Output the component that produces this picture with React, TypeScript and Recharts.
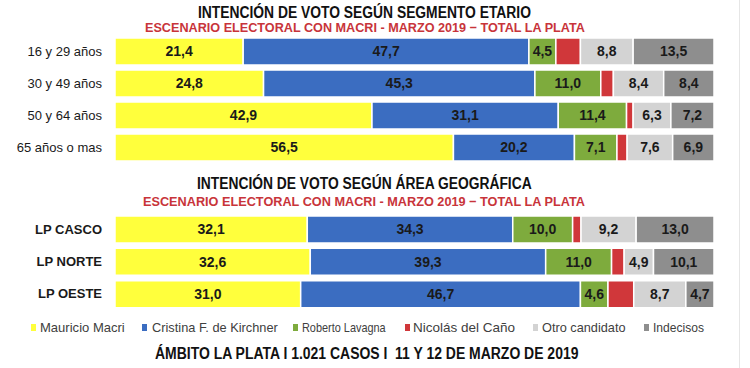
import React, { useLayoutEffect, useRef, useState } from 'react';
import { BarChart, Bar, XAxis, YAxis, LabelList } from 'recharts';

const ageCategories = ['16 y 29 años', '30 y 49 años', '50 y 64 años', '65 años o mas'];
const ageMacri = [21.4, 24.8, 42.9, 56.5];
const ageKirchner = [47.7, 45.3, 31.1, 20.2];
const ageLavagna = [4.5, 11.0, 11.4, 7.1];
const ageCano = [4.1, 2.1, 1.1, 1.7];
const ageOtro = [8.8, 8.4, 6.3, 7.6];
const ageIndecisos = [13.5, 8.4, 7.2, 6.9];

const areaCategories = ['LP CASCO', 'LP NORTE', 'LP OESTE'];
const areaMacri = [32.1, 32.6, 31.0];
const areaKirchner = [34.3, 39.3, 46.7];
const areaLavagna = [10.0, 11.0, 4.6];
const areaCano = [1.4, 2.1, 4.3];
const areaOtro = [9.2, 4.9, 8.7];
const areaIndecisos = [13.0, 10.1, 4.7];

const seriesNames = ['Mauricio Macri', 'Cristina F. de Kirchner', 'Roberto Lavagna', 'Nicolás del Caño', 'Otro candidato', 'Indecisos'];
const seriesKeys = ['macri', 'kirchner', 'lavagna', 'cano', 'otro', 'indecisos'];
const seriesColors = ['#ffff3c', '#3b6dc1', '#7eab3d', '#d0373a', '#d3d3d3', '#8e8e8e'];
const seriesLabeled = [true, true, true, false, true, true];

const title1 = 'INTENCIÓN DE VOTO SEGÚN SEGMENTO ETARIO';
const title2 = 'INTENCIÓN DE VOTO SEGÚN ÁREA GEOGRÁFICA';
const subtitle = 'ESCENARIO ELECTORAL CON MACRI - MARZO 2019 − TOTAL LA PLATA';
const footer = 'ÁMBITO LA PLATA I 1.021 CASOS I  11 Y 12 DE MARZO DE 2019';

const FONT = "'Liberation Sans', Arial, sans-serif";

function build(cats: string[], cols: number[][]) {
  return cats.map((c, i) => {
    const row: any = { name: c };
    seriesKeys.forEach((k, j) => { row[k] = cols[j][i]; });
    return row;
  });
}

const ageData = build(ageCategories, [ageMacri, ageKirchner, ageLavagna, ageCano, ageOtro, ageIndecisos]);
const areaData = build(areaCategories, [areaMacri, areaKirchner, areaLavagna, areaCano, areaOtro, areaIndecisos]);

const fmt = (v: any) => Number(v).toFixed(1).replace('.', ',');

function FitText({ text, left, top, width, size, weight, color }: { text: string; left: number; top: number; width: number; size: number; weight: number; color: string }) {
  const ref = useRef<HTMLSpanElement>(null);
  const [scale, setScale] = useState(1);
  useLayoutEffect(() => {
    if (ref.current) {
      const w = ref.current.offsetWidth;
      if (w) setScale(width / w);
    }
  }, [text, width]);
  return (
    <span
      ref={ref}
      style={{
        position: 'absolute', left, top, fontSize: size, lineHeight: `${size}px`, fontWeight: weight, color,
        fontFamily: FONT, whiteSpace: 'pre', transform: `scaleX(${scale})`, transformOrigin: 'left top',
      }}
    >
      {text}
    </span>
  );
}

function StackChart({ data, top, height, bold }: { data: any[]; top: number; height: number; bold: boolean }) {
  return (
    <div style={{ position: 'absolute', left: 0, top }}>
      <BarChart width={750} height={height} data={data} layout="vertical" margin={{ top: 0, right: 36, bottom: 0, left: 0 }}>
        <XAxis type="number" hide domain={[0, 100]} allowDataOverflow />
        <YAxis
          type="category"
          dataKey="name"
          width={115}
          axisLine={false}
          tickLine={false}
          tickMargin={7}
          tick={{ fill: '#1a1a1a', fontSize: 13, fontFamily: FONT, fontWeight: bold ? 700 : 400 }}
        />
        {seriesKeys.map((k, j) => (
          <Bar key={k} dataKey={k} name={seriesNames[j]} stackId="a" fill={seriesColors[j]} stroke="#ffffff" strokeWidth={1.5} barSize={27} isAnimationActive={false}>
            {seriesLabeled[j] && (
              <LabelList dataKey={k} position="center" formatter={fmt} style={{ fill: '#1a1a1a', fontSize: 14, fontWeight: 700, fontFamily: FONT }} />
            )}
          </Bar>
        ))}
      </BarChart>
    </div>
  );
}

const legendSquareX = [31, 142, 293, 405, 533, 644];
const legendTextX = [40, 152, 302, 413, 542, 653];
const legendTextW = [85, 126, 84, 102, 84, 51];

export default function App() {
  return (
    <div style={{ position: 'fixed', left: 0, top: 0, width: 750, height: 368, background: '#ffffff', overflow: 'hidden' }}>
      <FitText text={title1} left={198} top={5.2} width={333} size={16} weight={700} color="#111111" />
      <FitText text={subtitle} left={145} top={21} width={440} size={13.5} weight={700} color="#c8343a" />
      <StackChart data={ageData} top={35} height={128} bold={false} />
      <FitText text={title2} left={197} top={176.2} width={335} size={16} weight={700} color="#111111" />
      <FitText text={subtitle} left={143} top={195} width={442} size={13.5} weight={700} color="#c8343a" />
      <StackChart data={areaData} top={213} height={97} bold={true} />
      {seriesNames.map((n, j) => (
        <React.Fragment key={n}>
          <span style={{ position: 'absolute', left: legendSquareX[j], top: 324, width: 5, height: 7, background: seriesColors[j] }} />
          <FitText text={n} left={legendTextX[j]} top={321.4} width={legendTextW[j]} size={13.5} weight={400} color="#404040" />
        </React.Fragment>
      ))}
      <FitText text={footer} left={155} top={345.8} width={423} size={16} weight={700} color="#111111" />
      <div style={{ position: 'absolute', left: 739, top: 0, width: 1, height: 368, background: '#e6e6e6' }} />
    </div>
  );
}
